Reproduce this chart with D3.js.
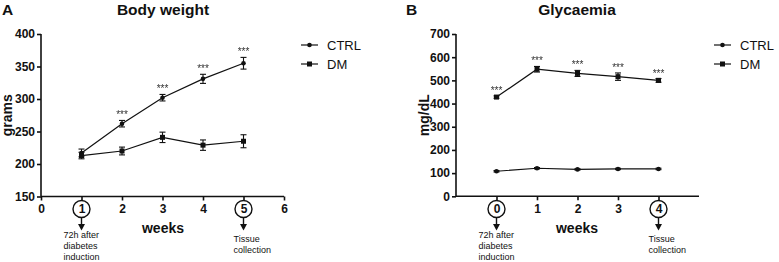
<!DOCTYPE html>
<html>
<head>
<meta charset="utf-8">
<script src="https://cdn.jsdelivr.net/npm/d3@7"></script>
<style>
    body { margin: 0; background: #fff; }
    text { font-family: "Liberation Sans", Arial, sans-serif; fill: #111; }
    .tick-label { font-size: 12px; font-weight: bold; }
    .title { font-size: 15.5px; font-weight: bold; }
    .axis-title { font-size: 14px; font-weight: bold; }
    .note { font-size: 9px; }
    .stars { font-size: 10px; fill: #333; }
    .star-group { filter: grayscale(1); }
    .legend-label { font-size: 13px; }
</style>
</head>
<body>
<div id="vis"></div>
<script>
// ---- data ----
const weightWeeks = [1, 2, 3, 4, 5];
const weightCtrlMean = [217, 262, 302, 331, 355];
const weightCtrlErr = [6, 5, 5, 7, 9];
const weightDmMean = [213, 220, 241, 229, 235];
const weightDmErr = [5, 6, 8, 8, 10];
const weightStars = ["", "***", "***", "***", "***"];
const weightYTicks = [150, 200, 250, 300, 350, 400];
const weightXTicks = [0, 1, 2, 3, 4, 5, 6];

const glyWeeks = [0, 1, 2, 3, 4];
const glyCtrlMean = [108, 121, 116, 118, 118];
const glyCtrlErr = [3, 3, 3, 3, 3];
const glyDmMean = [428, 548, 530, 516, 500];
const glyDmErr = [5, 12, 13, 16, 8];
const glyStars = ["***", "***", "***", "***", "***"];
const glyYTicks = [0, 100, 200, 300, 400, 500, 600, 700];
const glyXTicks = [0, 1, 2, 3, 4];

const seriesNames = ["CTRL", "DM"];
const noteStart = ["72h after", "diabetes", "induction"];
const noteEnd = ["Tissue", "collection"];

class Panel {
    constructor(_config, _data) {
        this.config = _config;
        this.data = _data;
        this.initVis();
    }

    initVis() {
        let vis = this;
        const c = vis.config;

        vis.xScale = d3.scaleLinear().domain(c.xDomain).range([c.left, c.right]);
        vis.yScale = d3.scaleLinear().domain(c.yDomain).range([c.bottom, c.top]);

        vis.g = c.svg.append('g');

        // panel letter + title
        vis.g.append('text').attr('class', 'title')
            .attr('x', c.letterX).attr('y', 15).text(c.letter);
        vis.g.append('text').attr('class', 'title')
            .attr('x', c.titleX).attr('y', 15).attr('text-anchor', 'middle').text(c.title);

        // y axis
        const yAxis = d3.axisLeft(vis.yScale).tickValues(c.yTicks).tickFormat(d3.format('d'))
            .tickSize(4).tickPadding(2);
        vis.g.append('g')
            .attr('transform', `translate(${c.left},0)`)
            .call(yAxis)
            .call(g => g.selectAll('text').attr('class', 'tick-label').attr('font-family', null).attr('font-size', null))
            .call(g => g.selectAll('line,path').attr('stroke', '#111').attr('stroke-width', 1.6))
            .call(g => g.select('.domain').attr('d', `M0,${c.bottom}V${c.top}`));

        // x axis
        const xAxis = d3.axisBottom(vis.xScale).tickValues(c.xTicks).tickFormat(d3.format('d'))
            .tickSize(4).tickPadding(4);
        vis.g.append('g')
            .attr('transform', `translate(0,${c.bottom})`)
            .call(xAxis)
            .call(g => g.selectAll('text').attr('class', 'tick-label').attr('font-family', null).attr('font-size', null))
            .call(g => g.selectAll('line,path').attr('stroke', '#111').attr('stroke-width', 1.6))
            .call(g => g.select('.domain').attr('d', `M${c.left},0H${c.right}`));

        // y axis title
        vis.g.append('text').attr('class', 'axis-title')
            .attr('transform', `translate(${c.yTitleX},${(c.top + c.bottom) / 2}) rotate(-90)`)
            .attr('text-anchor', 'middle').text(c.yTitle);

        // x axis title
        vis.g.append('text').attr('class', 'axis-title')
            .attr('x', c.weeksX).attr('y', 233).attr('text-anchor', 'middle').text('weeks');

        // circled ticks with arrows + notes
        c.circled.forEach((wk, i) => {
            const x = vis.xScale(wk);
            vis.g.append('circle').attr('cx', x).attr('cy', 209).attr('r', 8.5)
                .attr('fill', 'none').attr('stroke', '#111').attr('stroke-width', 1.4);
            vis.g.append('line').attr('x1', x).attr('x2', x).attr('y1', 218).attr('y2', 225)
                .attr('stroke', '#111').attr('stroke-width', 1.4);
            vis.g.append('path').attr('d', `M${x - 3.5},224L${x + 3.5},224L${x},230.5Z`).attr('fill', '#111');
            const lines = i === 0 ? noteStart : noteEnd;
            const y0 = i === 0 ? 238 : 242;
            const tx = i === 0 ? x - 18 : x - 10;
            vis.g.append('text').attr('class', 'note')
                .selectAll('tspan').data(lines).join('tspan')
                .attr('x', tx).attr('y', (d, j) => y0 + j * 10.8).text(d => d);
        });

        vis.renderVis();
        vis.renderLegend();
    }

    renderVis() {
        let vis = this;
        const line = d3.line().x(d => vis.xScale(d.week)).y(d => vis.yScale(d.mean));

        vis.data.forEach(s => {
            const pts = s.weeks.map((w, i) => ({week: w, mean: s.mean[i], err: s.err[i], star: s.stars ? s.stars[i] : ''}));
            const grp = vis.g.append('g');

            grp.append('path').datum(pts).attr('d', line)
                .attr('fill', 'none').attr('stroke', '#111').attr('stroke-width', 1.2);

            // error bars
            const eb = grp.selectAll('.err').data(pts).join('g').attr('class', 'err');
            eb.append('line')
                .attr('x1', d => vis.xScale(d.week)).attr('x2', d => vis.xScale(d.week))
                .attr('y1', d => vis.yScale(d.mean - d.err)).attr('y2', d => vis.yScale(d.mean + d.err))
                .attr('stroke', '#111').attr('stroke-width', 1.1);
            [-1, 1].forEach(sgn => {
                eb.append('line')
                    .attr('x1', d => vis.xScale(d.week) - 3).attr('x2', d => vis.xScale(d.week) + 3)
                    .attr('y1', d => vis.yScale(d.mean + sgn * d.err)).attr('y2', d => vis.yScale(d.mean + sgn * d.err))
                    .attr('stroke', '#111').attr('stroke-width', 1.1);
            });

            // markers
            if (s.marker === 'square') {
                grp.selectAll('.mk').data(pts).join('rect').attr('class', 'mk')
                    .attr('x', d => vis.xScale(d.week) - 2.5).attr('y', d => vis.yScale(d.mean) - 2.5)
                    .attr('width', 5).attr('height', 5).attr('fill', '#111');
            } else {
                grp.selectAll('.mk').data(pts).join('circle').attr('class', 'mk')
                    .attr('cx', d => vis.xScale(d.week)).attr('cy', d => vis.yScale(d.mean))
                    .attr('r', 2.3).attr('fill', '#111');
            }

            // significance stars
            grp.append('g').attr('class', 'star-group')
                .selectAll('.stars').data(pts.filter(d => d.star)).join('text').attr('class', 'stars')
                .attr('x', d => vis.xScale(d.week)).attr('y', d => vis.yScale(d.mean + d.err) - 2)
                .attr('text-anchor', 'middle').text(d => d.star);
        });
    }

    renderLegend() {
        let vis = this;
        const c = vis.config;
        const rows = vis.g.selectAll('.legend-row').data(vis.data).join('g')
            .attr('class', 'legend-row')
            .attr('transform', (d, i) => `translate(${c.legendX},${45 + i * 19})`);
        rows.append('line').attr('x1', 0).attr('x2', 17).attr('stroke', '#111').attr('stroke-width', 1.2);
        rows.filter(d => d.marker === 'square').append('rect')
            .attr('x', 6).attr('y', -2.5).attr('width', 5).attr('height', 5).attr('fill', '#111');
        rows.filter(d => d.marker !== 'square').append('circle')
            .attr('cx', 8.5).attr('r', 2.3).attr('fill', '#111');
        rows.append('text').attr('class', 'legend-label').attr('x', 26).attr('y', 4.5).text(d => d.name);
    }
}

const svg = d3.select('#vis').append('svg').attr('width', 779).attr('height', 262);

new Panel({
    svg: svg, letter: 'A', letterX: 2, title: 'Body weight', titleX: 163,
    xDomain: [0, 6], yDomain: [150, 400], left: 41, right: 284, top: 34, bottom: 196.5,
    xTicks: weightXTicks, yTicks: weightYTicks, yTitle: 'grams', yTitleX: 12,
    weeksX: 163, circled: [1, 5], legendX: 301
}, [
    {name: seriesNames[0], marker: 'circle', weeks: weightWeeks, mean: weightCtrlMean, err: weightCtrlErr, stars: weightStars},
    {name: seriesNames[1], marker: 'square', weeks: weightWeeks, mean: weightDmMean, err: weightDmErr}
]);

new Panel({
    svg: svg, letter: 'B', letterX: 406, title: 'Glycaemia', titleX: 577,
    xDomain: [-1, 5], yDomain: [0, 700], left: 456, right: 699, top: 34, bottom: 196.3,
    xTicks: glyXTicks, yTicks: glyYTicks, yTitle: 'mg/dL', yTitleX: 429,
    weeksX: 577, circled: [0, 4], legendX: 714
}, [
    {name: seriesNames[0], marker: 'circle', weeks: glyWeeks, mean: glyCtrlMean, err: glyCtrlErr},
    {name: seriesNames[1], marker: 'square', weeks: glyWeeks, mean: glyDmMean, err: glyDmErr, stars: glyStars}
]);
</script>
</body>
</html>
